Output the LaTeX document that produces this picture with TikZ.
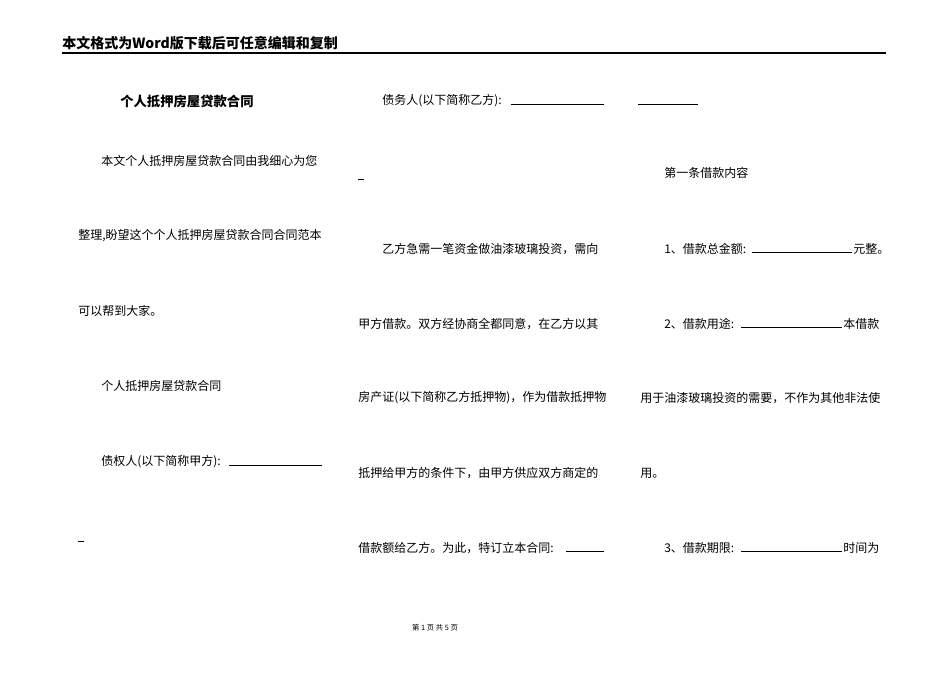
\documentclass[tikz,border=0pt]{standalone}
\usepackage{fontspec}
\newfontfamily\cjk{Noto Sans CJK SC}
\begin{document}
\begin{tikzpicture}[x=0.75pt,y=-0.75pt,
  txt/.style={anchor=west,inner sep=0pt,font=\cjk\fontsize{9}{9}\selectfont},
  ul/.style={line width=0.5pt}]
\useasboundingbox[fill=white] (0,0) rectangle (950,672);
\node[txt,font=\cjk\bfseries\fontsize{10.5}{10.5}\selectfont] (hd) at (62,43) {本文格式为Word版下载后可任意编辑和复制};
\draw[line width=0.8pt] (62,53) -- (886,53);
\node[txt,font=\cjk\bfseries\fontsize{10}{10}\selectfont] (t) at (120,101) {个人抵押房屋贷款合同};
% column 1
\node[txt] (a1) at (101,161) {本文个人抵押房屋贷款合同由我细心为您};
\node[txt] (a2) at (78,236) {整理,盼望这个个人抵押房屋贷款合同合同范本};
\node[txt] (a3) at (78,311) {可以帮到大家。};
\node[txt] (a4) at (101,386) {个人抵押房屋贷款合同};
\node[txt] (a5) at (101,462) {债权人(以下简称甲方):};
\draw[ul] (229,465) -- (322,465);
\draw[ul] (78,541) -- (84,541);
% column 2
\node[txt] (b1) at (382,101) {债务人(以下简称乙方):};
\draw[ul] (511,104) -- (604,104);
\draw[ul] (638,104) -- (698,104);
\draw[ul] (358,179) -- (364,179);
\node[txt] (b2) at (382,249) {乙方急需一笔资金做油漆玻璃投资，需向};
\node[txt] (b3) at (358,324) {甲方借款。双方经协商全都同意，在乙方以其};
\node[txt] (b4) at (358,398) {房产证(以下简称乙方抵押物)，作为借款抵押物};
\node[txt] (b5) at (358,473) {抵押给甲方的条件下，由甲方供应双方商定的};
\node[txt] (b6) at (358,548) {借款额给乙方。为此，特订立本合同:};
\draw[ul] (566,551) -- (604,551);
% column 3
\node[txt] (c1) at (664,173) {第一条借款内容};
\node[txt] (c2) at (664,249) {1、借款总金额:};
\draw[ul] (752,252) -- (852,252);
\node[txt] (c2b) at (853,249) {元整。};
\node[txt] (c3) at (664,324) {2、借款用途:};
\draw[ul] (741,327) -- (842,327);
\node[txt] (c3b) at (843,324) {本借款};
\node[txt] (c4) at (640,398) {用于油漆玻璃投资的需要，不作为其他非法使};
\node[txt] (c5) at (640,473) {用。};
\node[txt] (c6) at (664,548) {3、借款期限:};
\draw[ul] (741,551) -- (842,551);
\node[txt] (c6b) at (843,548) {时间为};
\node[font=\cjk\fontsize{5.5}{5.5}\selectfont,inner sep=0pt] (ft) at (435,628) {第 1 页 共 5 页};
\end{tikzpicture}
\end{document}
